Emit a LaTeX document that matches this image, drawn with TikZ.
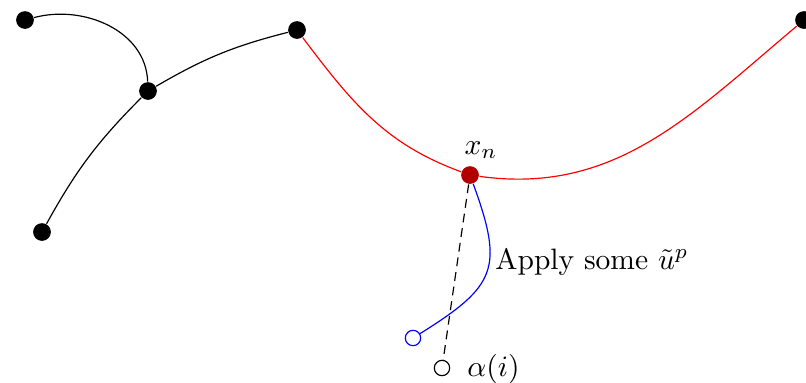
\documentclass[tikz,border=0pt]{standalone}
\usetikzlibrary{positioning}
\begin{document}
\begin{tikzpicture}[x=0.0119cm,y=0.0119cm,dot/.style={circle,fill,inner sep=0pt,minimum size=6pt},hollow/.style={circle,draw,fill=white,inner sep=0pt,minimum size=5.2pt}]
\useasboundingbox (0,0) rectangle (806,-382);
\node[dot] (pa) at (25,-20){};
\node[dot] (pb) at (148,-91){};
\node[dot] (pc) at (297,-30){};
\node[dot] (pd) at (42,-232){};
\node[dot] (pe) at (804,-20){};
\node[dot, fill=red!70!black] (xn) at (470,-175){};
\node[hollow, draw=blue] (step) at (413,-338){};
\node[hollow] (alpha) at (442,-368){};
\node (xnlbl) at (481,-150){$x_n$};
\node[anchor=west] (applylbl) at (485,-262){Apply some $\tilde{u}^p$};
\node[anchor=west] (alphalbl) at (457,-369){$\alpha(i)$};
\draw (pa) to[out=15,in=92] (pb);\draw (pb) to[bend left=8] (pc);\draw (pb) to[bend right=8] (pd);
\draw[red] (pc) to[out=-53,in=160] (xn);\draw[red] (xn) to[out=-8,in=220] (pe);
\draw[blue] (xn) to[out=-70,in=32,looseness=1.45] (step);
\draw[densely dashed] (xn) -- (alpha);
\end{tikzpicture}
\end{document}
